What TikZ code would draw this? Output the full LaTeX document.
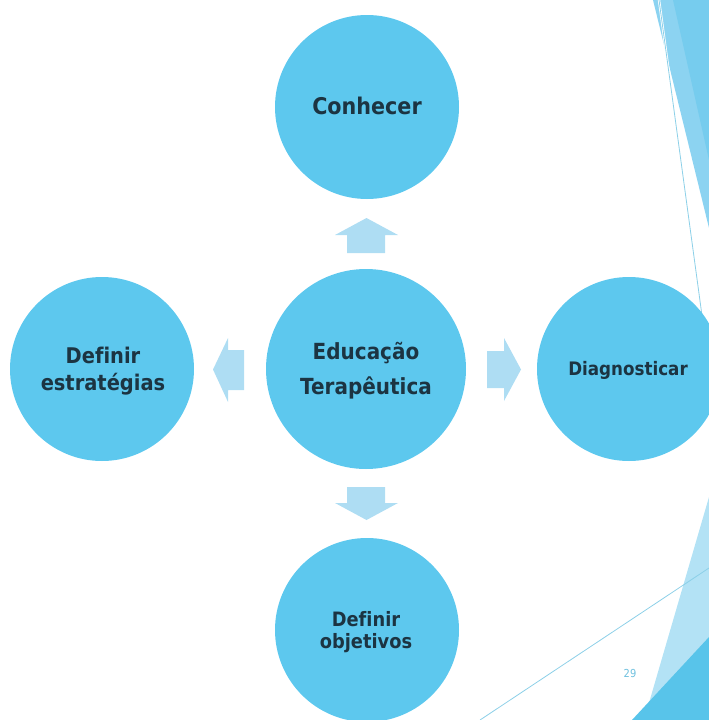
\documentclass[tikz,border=0pt]{standalone}
\usepackage{fontspec}
\setmainfont{DejaVu Sans}[FakeStretch=0.9, Ligatures=NoCommon]
\definecolor{circ}{RGB}{93,200,238}
\definecolor{arr}{RGB}{174,221,243}
\definecolor{txt}{RGB}{28,52,66}
\definecolor{decoA}{RGB}{140,211,241}
\definecolor{decoB}{RGB}{118,204,238}
\definecolor{decoL}{RGB}{179,226,245}
\definecolor{decoD}{RGB}{88,196,234}
\definecolor{lineC}{RGB}{140,208,232}
\definecolor{pnum}{RGB}{110,192,222}
\tikzset{
  bubble/.style={circle, fill=circ, draw=none, inner sep=0pt},
  bubbletext/.style={inner sep=0pt, align=center, text=txt},
  blockarrow/.style={fill=arr, draw=none},
  decoline/.style={draw=lineC, line width=0.8pt}
}
\begin{document}
\begin{tikzpicture}[x=1pt, y=-1pt]
\useasboundingbox (0,0) rectangle (709,720);
% right-side decorations
\fill[decoA] (653,0) -- (709,0) -- (709,228) -- cycle;
\fill[decoB] (673,0) -- (709,0) -- (709,160) -- cycle;
\coordinate (t1) at (659,0);
\coordinate (t2) at (709,367);
\draw[white, line width=2.4pt] (t1) -- (t2);
\draw[decoline] (t1) -- (t2);
\fill[decoL] (709,497) -- (709,720) -- (644,720) -- cycle;
\fill[decoD] (709,637) -- (709,720) -- (632,720) -- cycle;
\coordinate (b1) at (480,720);
\coordinate (b2) at (709,568);
\draw[decoline] (b1) -- (b2);
\node[text=pnum, font=\fontsize{11}{12}\selectfont, inner sep=0pt] (pg) at (630,673) {29};

% circles
\node[bubble, minimum size=184pt] (con) at (367,107) {};
\node[bubble, minimum size=200pt] (edu) at (366,369) {};
\node[bubble, minimum size=184pt] (est) at (102,369) {};
\node[bubble, minimum size=184pt] (dia) at (629,369) {};
\node[bubble, minimum size=184pt] (obj) at (367,630) {};

% texts
\node[bubbletext, font=\bfseries\fontsize{23}{26}\selectfont] (cont) at (367,106) {Conhecer};
\node[bubbletext, font=\bfseries\fontsize{22.2}{35}\selectfont] (edut) at (366,371) {Educação\\Terapêutica};
\node[bubbletext, font=\bfseries\fontsize{21.6}{27}\selectfont] (estt) at (103,371) {Definir\\estratégias};
\node[bubbletext, font=\bfseries\fontsize{18.6}{22}\selectfont] (diat) at (628,370) {Diagnosticar};
\node[bubbletext, font=\bfseries\fontsize{19.8}{22}\selectfont] (objt) at (366,632) {Definir\\objetivos};

% block arrows
\fill[blockarrow] (347,253) -- (347,235) -- (335,235) -- (366.5,218) -- (398,235) -- (385,235) -- (385,253) -- cycle;
\fill[blockarrow] (347,487) -- (347,503) -- (335,503) -- (366.5,520) -- (398,503) -- (385,503) -- (385,487) -- cycle;
\fill[blockarrow] (244,350) -- (228,350) -- (228,338) -- (213,369.5) -- (228,402) -- (228,390) -- (244,390) -- cycle;
\fill[blockarrow] (487,351) -- (504,351) -- (504,338) -- (521,369.5) -- (504,401) -- (504,388) -- (487,388) -- cycle;
\end{tikzpicture}
\end{document}
